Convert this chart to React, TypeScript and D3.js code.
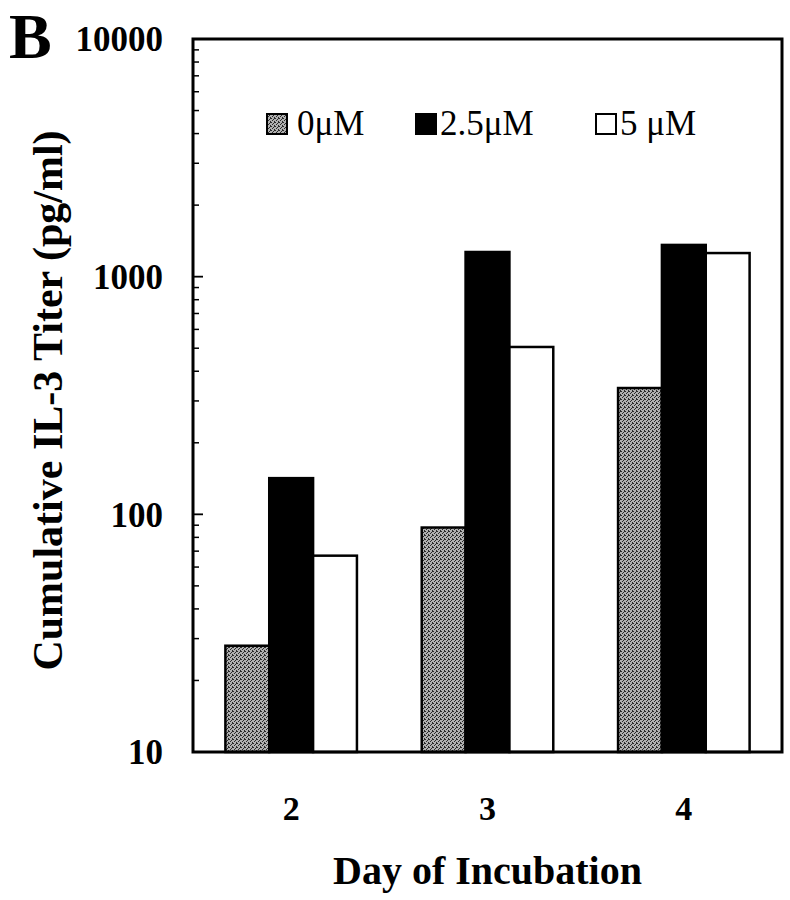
import React, { useEffect, useRef } from 'react';
import * as d3 from 'd3';

// data
const days = ['2', '3', '4'];
const doses = ['0\u03bcM', '2.5\u03bcM', '5 \u03bcM'];
const titer0 = [28, 88, 340];
const titer25 = [142, 1270, 1360];
const titer5 = [67, 506, 1257];
const yTicks = [10, 100, 1000, 10000];

const series = [titer0, titer25, titer5];
const fills = ['url(#stipple)', '#000', '#fff'];

const W = 790;
const H = 900;
const margin = { top: 39, right: 8, bottom: 148, left: 193 };
const FONT = '"Liberation Serif", "Times New Roman", serif';

function App() {
  const node = useRef<SVGSVGElement | null>(null);

  useEffect(() => {
    const svg = d3.select(node.current);
    svg.selectAll('*').remove();

    const w = W - margin.left - margin.right;
    const h = H - margin.top - margin.bottom;

    // stippled gray used by the 0uM bars
    const pat = svg.append('defs').append('pattern')
      .attr('id', 'stipple')
      .attr('patternUnits', 'userSpaceOnUse')
      .attr('width', 4)
      .attr('height', 4);
    pat.append('rect').attr('width', 4).attr('height', 4).attr('fill', '#b0b0b0');
    [[0, 0], [2, 1], [1, 2], [3, 3], [3, 0]].forEach(([px, py]) => {
      pat.append('rect').attr('x', px).attr('y', py).attr('width', 1).attr('height', 1).attr('fill', '#2a2a2a');
    });

    const main = svg.append('g')
      .attr('transform', `translate(${margin.left}, ${margin.top})`);

    const xScale = d3.scaleBand<string>()
      .domain(days)
      .range([0, w])
      .paddingInner(0.33)
      .paddingOuter(0.165);

    const xInner = d3.scaleBand<number>()
      .domain(d3.range(series.length))
      .range([0, xScale.bandwidth()]);

    const yScale = d3.scaleLog()
      .domain([10, 10000])
      .range([h, 0]);

    // bars
    series.forEach((vals, si) => {
      main.append('g')
        .selectAll('rect')
        .data(vals)
        .enter()
        .append('rect')
        .attr('x', (d, i) => (xScale(days[i]) as number) + (xInner(si) as number))
        .attr('y', d => yScale(d))
        .attr('width', xInner.bandwidth())
        .attr('height', d => h - yScale(d))
        .attr('fill', fills[si])
        .attr('stroke', '#000')
        .attr('stroke-width', 2.5);
    });

    // log ticks, drawn inward
    const minor: number[] = [];
    for (let e = 1; e < 4; e++) {
      for (let m = 2; m <= 9; m++) minor.push(m * Math.pow(10, e));
    }
    main.append('g')
      .selectAll('line')
      .data(minor)
      .enter()
      .append('line')
      .attr('x1', 0)
      .attr('x2', 6)
      .attr('y1', d => yScale(d))
      .attr('y2', d => yScale(d))
      .attr('stroke', '#000')
      .attr('stroke-width', 1.5);

    main.append('g')
      .selectAll('line')
      .data(yTicks)
      .enter()
      .append('line')
      .attr('x1', 0)
      .attr('x2', 10)
      .attr('y1', d => yScale(d))
      .attr('y2', d => yScale(d))
      .attr('stroke', '#000')
      .attr('stroke-width', 1.8);

    main.append('g')
      .selectAll('text')
      .data(yTicks)
      .enter()
      .append('text')
      .attr('x', -30)
      .attr('y', d => yScale(d))
      .attr('dy', '0.35em')
      .attr('text-anchor', 'end')
      .attr('font-family', FONT)
      .attr('font-weight', 'bold')
      .attr('font-size', 35)
      .text(d => String(d));

    main.append('g')
      .selectAll('text')
      .data(days)
      .enter()
      .append('text')
      .attr('x', d => (xScale(d) as number) + xScale.bandwidth() / 2)
      .attr('y', h + 68)
      .attr('text-anchor', 'middle')
      .attr('font-family', FONT)
      .attr('font-weight', 'bold')
      .attr('font-size', 34)
      .text(d => d);

    // frame
    main.append('rect')
      .attr('width', w)
      .attr('height', h)
      .attr('fill', 'none')
      .attr('stroke', '#000')
      .attr('stroke-width', 3);

    // legend
    const legendX = [74, 223, 403];
    const legend = main.append('g')
      .selectAll('g')
      .data(doses)
      .enter()
      .append('g')
      .attr('transform', (d, i) => `translate(${legendX[i]}, 75)`);
    legend.append('rect')
      .attr('width', 20)
      .attr('height', 20)
      .attr('fill', (d, i) => fills[i])
      .attr('stroke', '#000')
      .attr('stroke-width', 2);
    legend.append('text')
      .attr('x', (d, i) => (i === 0 ? 30 : 24))
      .attr('y', 21)
      .attr('font-family', FONT)
      .attr('font-size', 35)
      .text(d => d);

    // titles
    svg.append('text')
      .attr('x', 9)
      .attr('y', 58)
      .attr('font-family', FONT)
      .attr('font-weight', 'bold')
      .attr('font-size', 64)
      .text('B');

    svg.append('text')
      .attr('x', margin.left + w / 2)
      .attr('y', 884)
      .attr('text-anchor', 'middle')
      .attr('font-family', FONT)
      .attr('font-weight', 'bold')
      .attr('font-size', 40)
      .text('Day of Incubation');

    svg.append('text')
      .attr('transform', `translate(62, ${margin.top + h / 2 + 5}) rotate(-90)`)
      .attr('text-anchor', 'middle')
      .attr('font-family', FONT)
      .attr('font-weight', 'bold')
      .attr('font-size', 42)
      .text('Cumulative IL-3 Titer (pg/ml)');
  }, []);

  return (
    <svg
      ref={node}
      width={W}
      height={H}
      style={{ position: 'absolute', left: 0, top: 0, background: '#fff' }}
    />
  );
}

export default App;
